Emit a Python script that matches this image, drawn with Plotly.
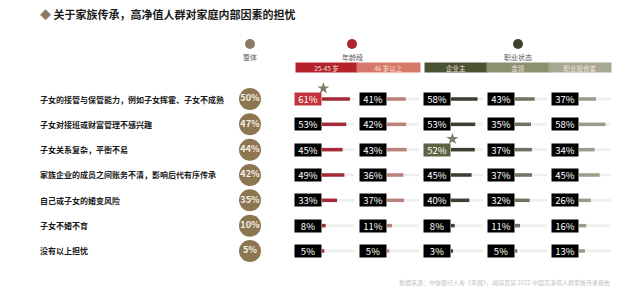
import plotly.graph_objects as go

W, H = 640, 301

title = "关于家族传承，高净值人群对家庭内部因素的担忧"
categories = [
    "子女的接管与保管能力，例如子女挥霍、子女不成熟",
    "子女对接班或财富管理不感兴趣",
    "子女关系复杂，平衡不易",
    "家族企业的成员之间账务不清，影响后代有序传承",
    "自己或子女的婚变风险",
    "子女不婚不育",
    "没有以上担忧",
]
overall = [50, 47, 44, 42, 35, 10, 5]
group_names = ["25-45 岁", "46 岁以上", "企业主", "金领", "职业投资者"]
age_25_45 = [61, 53, 45, 49, 33, 8, 5]
age_46_plus = [41, 42, 43, 36, 37, 11, 5]
owner = [58, 53, 52, 45, 40, 8, 3]
gold_collar = [43, 35, 37, 37, 32, 11, 5]
investor = [37, 58, 34, 45, 26, 16, 13]
series = [age_25_45, age_46_plus, owner, gold_collar, investor]
highlights = [(0, 0), (2, 2)]  # (series index, row index) starred
source = "数据来源：中信银行人寿《年报》，胡润百富 2022 中国高净值人群家族传承报告"

FONT = "Noto Sans CJK SC"
bar_colors = ["#a32a36", "#b8837a", "#3b3e30", "#70735f", "#9c9c8a"]
head_colors = ["#b5222c", "#d8786a", "#4b5232", "#8b9070", "#a7a892"]
hl_colors = {0: "#c4323a", 2: "#5c6242"}
track_max = 70

# column geometry (pixels)
bar_starts = [322, 387, 451, 515, 579]
bar_len = 32
box_w = 26
overall_x = 250

# y scale: row 0 at pixel 99, spacing 25.33
row_px0, row_step = 99, 25.33
r_top = -row_px0 / row_step
r_bot = r_top + H / row_step

fig = go.Figure()
n = len(categories)
rows = list(range(n))

layout_axes = {}
for k, vals in enumerate(series):
    ax = f"x{k+1}"
    axname = f"xaxis{k+1}"
    fig.add_trace(go.Bar(x=[track_max] * n, y=rows, orientation="h", xaxis=ax, yaxis="y",
                         marker=dict(color="#eeeeee", line=dict(width=0)), width=0.1,
                         hoverinfo="skip", showlegend=False))
    fig.add_trace(go.Bar(x=vals, y=rows, orientation="h", xaxis=ax, yaxis="y",
                         marker=dict(color=bar_colors[k], line=dict(width=0)), width=0.14,
                         showlegend=False))
    layout_axes[axname] = dict(domain=[bar_starts[k] / W, (bar_starts[k] + bar_len) / W],
                               range=[0, track_max], visible=False, fixedrange=True, anchor="y")
    for i, v in enumerate(vals):
        bg = hl_colors[k] if (k, i) in highlights else "#000000"
        fig.add_annotation(x=0, y=i, xref=ax, yref="y", xanchor="right", yanchor="middle",
                           text=f"{v}%", showarrow=False, bgcolor=bg, width=box_w, height=12,
                           borderpad=0, font=dict(family=FONT, size=9.5, color="white"))
    for (kk, i) in highlights:
        if kk == k:
            fig.add_trace(go.Scatter(x=[3], y=[i - 0.42], xaxis=ax, yaxis="y", mode="markers",
                                     marker=dict(symbol="star", size=9, color="#7d7c66"),
                                     cliponaxis=False, showlegend=False, hoverinfo="skip"))

# overall circles
fig.add_trace(go.Scatter(x=[0] * n, y=rows, xaxis="x6", yaxis="y", mode="markers+text",
                         marker=dict(size=22, color="#8c7652"), cliponaxis=False,
                         text=[f"<b>{v}%</b>" for v in overall], textposition="middle center",
                         textfont=dict(family=FONT, size=9, color="#f6efe4"),
                         showlegend=False))
layout_axes["xaxis6"] = dict(domain=[(overall_x - 15) / W, (overall_x + 15) / W], range=[-1, 1],
                             visible=False, anchor="y")


def px(xp):
    return xp / W


def py(yp):
    return 1 - yp / H


# row labels
for i, c in enumerate(categories):
    fig.add_annotation(x=px(38), y=i, xref="paper", yref="y", xanchor="left", yanchor="middle",
                       text=f"<b>{c}</b>", showarrow=False,
                       font=dict(family=FONT, size=8, color="#1a1a1a"))

# headers
head_circles = [(overall_x, "#8c7b62", "整体"), (352, "#a8262e", "年龄段"), (518, "#3d4230", "职业状态")]
for hx, col, lab in head_circles:
    fig.add_shape(type="circle", xref="paper", yref="paper",
                  x0=px(hx - 5), x1=px(hx + 5), y0=py(49), y1=py(39),
                  fillcolor=col, line=dict(width=0))
    fig.add_annotation(x=px(hx), y=py(57), xref="paper", yref="paper", text=lab, showarrow=False,
                       font=dict(family=FONT, size=7, color="#555555"), xanchor="center", yanchor="middle")

head_edges = [(296, 357), (357, 420), (425, 487), (487, 549), (549, 611)]
for (a, b), name, col in zip(head_edges, group_names, head_colors):
    fig.add_annotation(x=px((a + b) / 2), y=py(67.5), xref="paper", yref="paper", text=name,
                       showarrow=False, bgcolor=col, width=b - a, height=9, borderpad=0,
                       font=dict(family=FONT, size=6.5, color="#f0e2dc"),
                       xanchor="center", yanchor="middle")

# title
fig.add_annotation(x=px(38), y=py(14), xref="paper", yref="paper", xanchor="left", yanchor="middle",
                   text="<span style='color:#8b7b65'>◆</span> <b>" + title + "</b>", showarrow=False,
                   font=dict(family=FONT, size=11, color="#1a1a1a"))
# source
fig.add_annotation(x=px(612), y=py(282), xref="paper", yref="paper", xanchor="right", yanchor="middle",
                   text=source, showarrow=False, font=dict(family=FONT, size=6, color="#c4c4c4"))

fig.update_layout(
    width=W, height=H, margin=dict(l=0, r=0, t=0, b=0),
    paper_bgcolor="white", plot_bgcolor="rgba(0,0,0,0)", barmode="overlay",
    yaxis=dict(domain=[0, 1], range=[r_bot, r_top], visible=False, fixedrange=True, anchor="x1"),
    font=dict(family=FONT),
    **layout_axes,
)
fig.write_html("out.html")
